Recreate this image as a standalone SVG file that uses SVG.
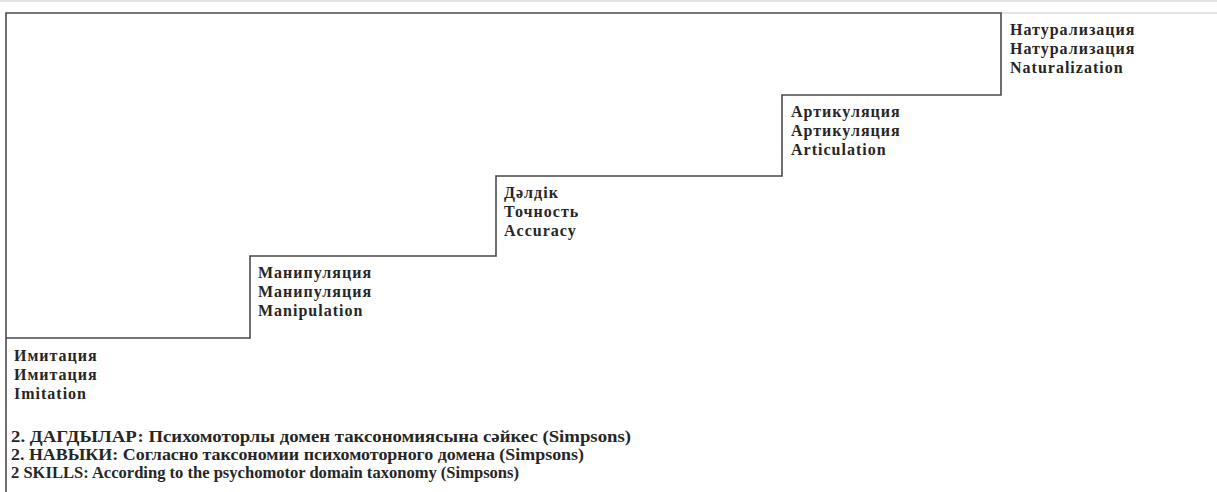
<svg xmlns="http://www.w3.org/2000/svg" width="1217" height="492" viewBox="0 0 1217 492">
  <style>
    .bg { fill: #ffffff; }
    .edge { fill: none; stroke: #4a4a4a; stroke-width: 1.6; }
    .faint { fill: none; stroke: #c8c8c8; stroke-width: 1.2; }
    .lbl { font-family: "Liberation Serif", "Times New Roman", serif; font-size: 16px; font-weight: bold; fill: #262626; letter-spacing: 1px; }
    .foot { font-family: "Liberation Serif", "Times New Roman", serif; font-size: 16px; font-weight: bold; fill: #262626; }
  </style>
  <rect class="bg" x="0" y="0" width="1217" height="492"/>
  <line class="faint" x1="0" y1="1" x2="1217" y2="1"/>
  <line class="faint" x1="1001" y1="13" x2="1217" y2="13"/>
  <g id="connectors">
    <path class="edge" d="M6,492 V13 H1001 V95 H782 V176 H496 V256 H250 V338 H6"/>
  </g>
  <g id="naturalization">
    <text class="lbl" x="1010" y="35">Натурализация</text>
    <text class="lbl" x="1010" y="54">Натурализация</text>
    <text class="lbl" x="1010" y="73">Naturalization</text>
  </g>
  <g id="articulation">
    <text class="lbl" x="791" y="117">Артикуляция</text>
    <text class="lbl" x="791" y="136">Артикуляция</text>
    <text class="lbl" x="791" y="155">Articulation</text>
  </g>
  <g id="accuracy">
    <text class="lbl" x="504" y="198">Дәлдік</text>
    <text class="lbl" x="504" y="217">Точность</text>
    <text class="lbl" x="504" y="236">Accuracy</text>
  </g>
  <g id="manipulation">
    <text class="lbl" x="258" y="278">Манипуляция</text>
    <text class="lbl" x="258" y="297">Манипуляция</text>
    <text class="lbl" x="258" y="316">Manipulation</text>
  </g>
  <g id="imitation">
    <text class="lbl" x="14" y="361">Имитация</text>
    <text class="lbl" x="14" y="380">Имитация</text>
    <text class="lbl" x="14" y="399">Imitation</text>
  </g>
  <g id="caption">
    <text class="foot" x="11" y="442" textLength="620" lengthAdjust="spacingAndGlyphs">2. ДАГДЫЛАР: Психомоторлы домен таксономиясына сәйкес (Simpsons)</text>
    <text class="foot" x="11" y="460" textLength="573" lengthAdjust="spacingAndGlyphs">2. НАВЫКИ: Согласно таксономии психомоторного домена (Simpsons)</text>
    <text class="foot" x="11" y="478" textLength="508" lengthAdjust="spacingAndGlyphs">2 SKILLS: According to the psychomotor domain taxonomy (Simpsons)</text>
  </g>
</svg>
